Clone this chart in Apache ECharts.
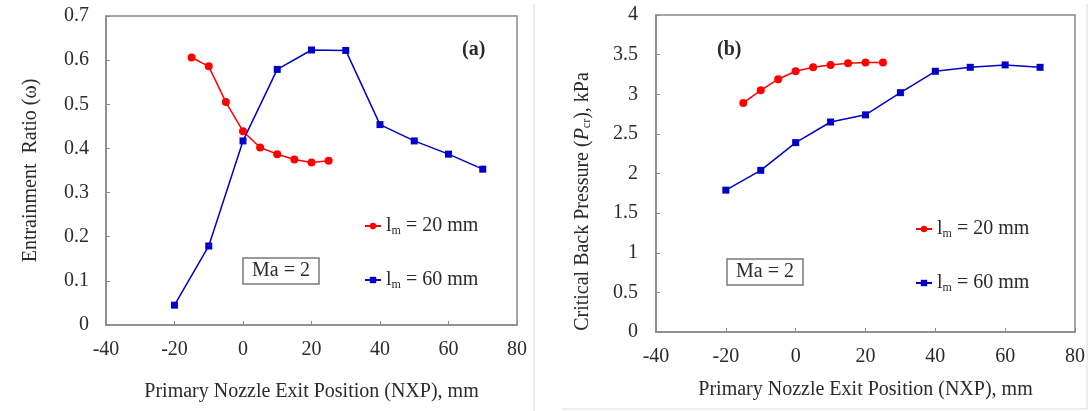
<!DOCTYPE html>
<html>
<head>
<meta charset="utf-8">
<script src="https://cdn.jsdelivr.net/npm/echarts@6/dist/echarts.min.js"></script>
<style>
  html, body { margin: 0; padding: 0; background: #fff; }
  #chart { width: 1089px; height: 411px; }
</style>
</head>
<body>
<div id="chart"></div>
<script>
// Nozzle exit positions (mm)
const nxpShort = [-15, -10, -5, 0, 5, 10, 15, 20, 25];
const nxpLong = [-20, -10, 0, 10, 20, 30, 40, 50, 60, 70];

// (a) Entrainment ratio
const ratioShort = [0.606, 0.586, 0.505, 0.439, 0.402, 0.387, 0.375, 0.368, 0.372];
const ratioLong = [0.045, 0.179, 0.417, 0.579, 0.623, 0.622, 0.454, 0.417, 0.387, 0.353];

// (b) Critical back pressure (kPa)
const pcrShort = [2.89, 3.05, 3.19, 3.29, 3.34, 3.37, 3.39, 3.40, 3.40];
const pcrLong = [1.79, 2.04, 2.39, 2.65, 2.74, 3.02, 3.29, 3.34, 3.37, 3.34];

const seriesNames = ['lm = 20 mm', 'lm = 60 mm'];
const legendTexts = {
  'lm = 20 mm': '{t|l}{s|m}{t| = 20 mm}',
  'lm = 60 mm': '{t|l}{s|m}{t| = 60 mm}'
};

const FONT = '"Liberation Serif", "Times New Roman", serif';
const TXT = '#2b2b2b';
const FRAME = '#8a8a8a';
const RED = '#ff0000';
const BLUE = '#0000c8';

function pairs(xs, ys) { return xs.map((x, i) => [x, ys[i]]); }

const richText = {
  t: { fontFamily: FONT, fontSize: 20, color: TXT },
  s: { fontFamily: FONT, fontSize: 12, color: TXT, padding: [9, 0, 0, 0] },
  i: { fontFamily: FONT, fontSize: 20, color: TXT, fontStyle: 'italic' }
};

function xAxisFor(grid, gap) {
  return {
    type: 'value', gridIndex: grid, min: -40, max: 80, interval: 20,
    name: 'Primary Nozzle Exit Position (NXP), mm',
    nameLocation: 'middle', nameGap: gap,
    nameTextStyle: { fontFamily: FONT, fontSize: 20, color: TXT },
    axisLine: { show: true, onZero: false, lineStyle: { color: FRAME, width: 1.5 } },
    axisTick: { show: true, inside: true, length: 4, lineStyle: { color: FRAME } },
    axisLabel: { fontFamily: FONT, fontSize: 20, color: TXT, margin: 15 },
    splitLine: { show: false }
  };
}

function yAxisFor(grid, min, max, step, name, gap, margin, extraName) {
  return {
    type: 'value', gridIndex: grid, min: min, max: max, interval: step,
    name: name, nameLocation: 'middle', nameGap: gap,
    nameTextStyle: Object.assign({ fontFamily: FONT, fontSize: 20, color: TXT }, extraName || {}),
    axisLine: { show: true, onZero: false, lineStyle: { color: FRAME, width: 1.5 } },
    axisTick: { show: true, inside: true, length: 4, lineStyle: { color: FRAME } },
    axisLabel: { fontFamily: FONT, fontSize: 20, color: TXT, margin: margin },
    splitLine: { show: false }
  };
}

function lineSeries(name, grid, data, color, symbol, size) {
  return {
    name: name, type: 'line', xAxisIndex: grid, yAxisIndex: grid,
    data: data, symbol: symbol, symbolSize: size,
    lineStyle: { color: color, width: 1.5 },
    itemStyle: { color: color },
    animation: false
  };
}

function legendAt(name, left, top) {
  return {
    data: [name], left: left, top: top, orient: 'vertical', padding: 0,
    itemWidth: 16, itemHeight: 8, selectedMode: false,
    formatter: n => legendTexts[n],
    textStyle: { rich: richText }
  };
}

function boxTitle(text, left, top, bold, boxed) {
  return {
    text: text, left: left, top: top,
    padding: boxed ? [3, 9, 3, 9] : 0,
    borderColor: boxed ? '#7a7a7a' : 'transparent',
    borderWidth: boxed ? 1.5 : 0,
    textStyle: { fontFamily: FONT, fontSize: 20, fontWeight: bold ? 'bold' : 'normal', color: TXT }
  };
}

const chart = echarts.init(document.getElementById('chart'));
chart.setOption({
  backgroundColor: '#fff',
  animation: false,
  title: [
    boxTitle('(a)', 462, 40, true, false),
    boxTitle('(b)', 717, 40, true, false),
    boxTitle('Ma = 2', 243, 258, false, true),
    boxTitle('Ma = 2', 727, 259, false, true)
  ],
  legend: [
    legendAt(seriesNames[0], 364, 216),
    legendAt(seriesNames[1], 364, 270),
    legendAt(seriesNames[0], 915, 219),
    legendAt(seriesNames[1], 915, 273)
  ],
  grid: [
    { left: 106, top: 16, width: 411, height: 309, show: true, borderColor: FRAME, borderWidth: 1.5 },
    { left: 656, top: 15, width: 419, height: 317, show: true, borderColor: FRAME, borderWidth: 1.5 }
  ],
  xAxis: [xAxisFor(0, 57), xAxisFor(1, 48)],
  yAxis: [
    yAxisFor(0, 0, 0.7, 0.1, 'Entrainment  Ratio (ω)', 65, 17),
    yAxisFor(1, 0, 4, 0.5, '{t|Critical Back Pressure (}{i|P}{s|cr}{t|), kPa}', 63, 18,
      { rich: richText, padding: [0, 56, 0, 0] })
  ],
  series: [
    lineSeries(seriesNames[0], 0, pairs(nxpShort, ratioShort), RED, 'circle', 8),
    lineSeries(seriesNames[1], 0, pairs(nxpLong, ratioLong), BLUE, 'rect', 7),
    lineSeries(seriesNames[0], 1, pairs(nxpShort, pcrShort), RED, 'circle', 8),
    lineSeries(seriesNames[1], 1, pairs(nxpLong, pcrLong), BLUE, 'rect', 7)
  ],
  graphic: [
    // panel separators
    { type: 'line', shape: { x1: 534, y1: 4, x2: 534, y2: 411 }, style: { stroke: '#dcdcdc', lineWidth: 1 } },
    { type: 'line', shape: { x1: 1087, y1: 4, x2: 1087, y2: 409 }, style: { stroke: '#dcdcdc', lineWidth: 1 } },
    { type: 'line', shape: { x1: 562, y1: 409, x2: 1087, y2: 409 }, style: { stroke: '#dcdcdc', lineWidth: 1 } }
  ]
});
</script>
</body>
</html>
